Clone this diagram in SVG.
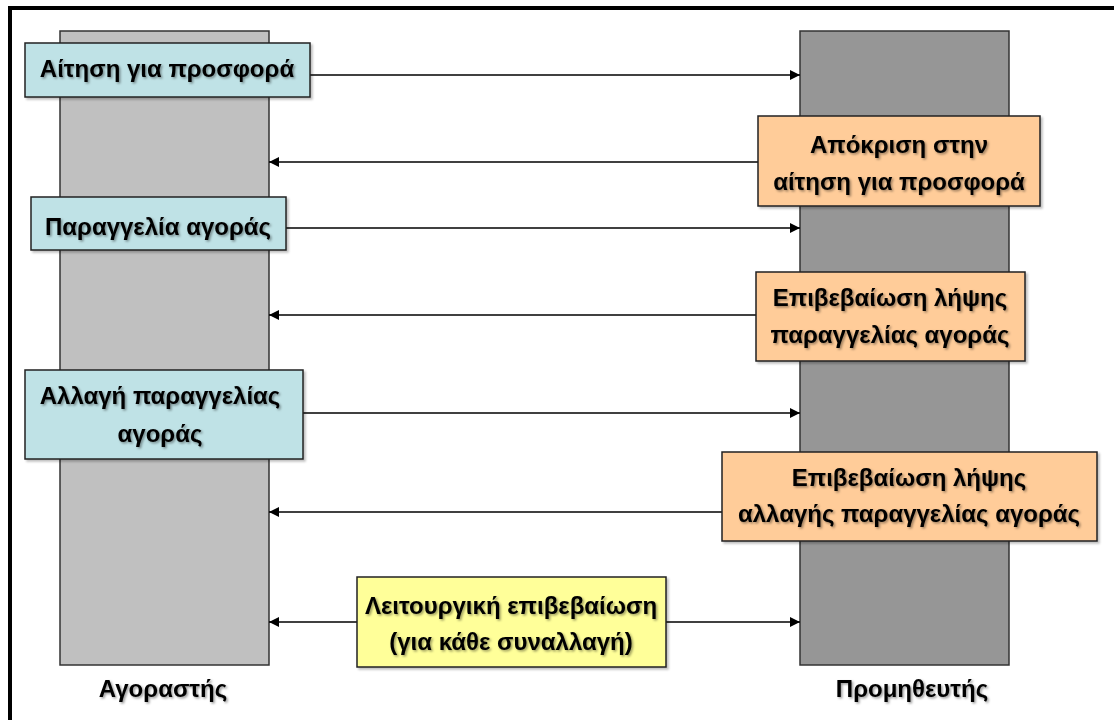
<svg xmlns="http://www.w3.org/2000/svg" width="1114" height="720" viewBox="0 0 1114 720">
<style>
.lane{stroke:#333;stroke-width:1.5}
.box{stroke:#222;stroke-width:1.5}
.blue{fill:#BFE2E6}
.orange{fill:#FFCC99}
.yellow{fill:#FFFF99}
.t{font-family:"Liberation Sans",Arial,sans-serif;font-weight:bold;font-size:24px;fill:#000;text-anchor:middle;filter:url(#sh)}
.c{stroke:#000;stroke-width:1.5;fill:none}
</style>
<defs>
<filter id="sh" x="-10%" y="-30%" width="120%" height="160%">
<feDropShadow dx="1.5" dy="1.5" stdDeviation="1" flood-color="#000" flood-opacity="0.4"/>
</filter>
<filter id="bs" x="-5%" y="-10%" width="110%" height="120%">
<feDropShadow dx="2" dy="2" stdDeviation="1" flood-color="#000" flood-opacity="0.25"/>
</filter>
<marker id="ah" viewBox="0 0 10 10" refX="10" refY="5" markerWidth="10" markerHeight="10" markerUnits="userSpaceOnUse" orient="auto-start-reverse">
<path d="M0,0 L10,5 L0,10 z" fill="#000"/>
</marker>
</defs>
<rect x="10" y="8" width="1120" height="730" fill="none" stroke="#000" stroke-width="4"/>
<g id="buyer">
<rect class="lane" x="60" y="31" width="209" height="634" fill="#C0C0C0"/>
<text class="t" x="163" y="697">Αγοραστής</text>
</g>
<g id="supplier">
<rect class="lane" x="800" y="31" width="209" height="634" fill="#969696"/>
<text class="t" x="912" y="697">Προμηθευτής</text>
</g>
<g id="connectors">
<line class="c" x1="310" y1="75" x2="800" y2="75" marker-end="url(#ah)"/>
<line class="c" x1="758" y1="162" x2="269" y2="162" marker-end="url(#ah)"/>
<line class="c" x1="286" y1="228" x2="800" y2="228" marker-end="url(#ah)"/>
<line class="c" x1="756" y1="315" x2="269" y2="315" marker-end="url(#ah)"/>
<line class="c" x1="303" y1="413" x2="800" y2="413" marker-end="url(#ah)"/>
<line class="c" x1="722" y1="512" x2="269" y2="512" marker-end="url(#ah)"/>
<line class="c" x1="357" y1="622" x2="269" y2="622" marker-end="url(#ah)"/>
<line class="c" x1="666" y1="622" x2="800" y2="622" marker-end="url(#ah)"/>
</g>
<g id="n1">
<rect class="box blue" x="25" y="43" width="285" height="54" filter="url(#bs)"/>
<text class="t" x="167" y="77">Αίτηση για προσφορά</text>
</g>
<g id="n2">
<rect class="box orange" x="758" y="116" width="282" height="90" filter="url(#bs)"/>
<text class="t" x="899" y="153">Απόκριση στην</text>
<text class="t" x="899" y="190">αίτηση για προσφορά</text>
</g>
<g id="n3">
<rect class="box blue" x="31" y="197" width="255" height="53" filter="url(#bs)"/>
<text class="t" x="158" y="235">Παραγγελία αγοράς</text>
</g>
<g id="n4">
<rect class="box orange" x="756" y="272" width="269" height="89" filter="url(#bs)"/>
<text class="t" x="890" y="306">Επιβεβαίωση λήψης</text>
<text class="t" x="890" y="343">παραγγελίας αγοράς</text>
</g>
<g id="n5">
<rect class="box blue" x="25" y="370" width="278" height="89" filter="url(#bs)"/>
<text class="t" x="160" y="404">Αλλαγή παραγγελίας</text>
<text class="t" x="160" y="442">αγοράς</text>
</g>
<g id="n6">
<rect class="box orange" x="722" y="452" width="375" height="89" filter="url(#bs)"/>
<text class="t" x="909" y="486">Επιβεβαίωση λήψης</text>
<text class="t" x="909" y="522">αλλαγής παραγγελίας αγοράς</text>
</g>
<g id="n7">
<rect class="box yellow" x="357" y="577" width="309" height="90" filter="url(#bs)"/>
<text class="t" x="511" y="614">Λειτουργική επιβεβαίωση</text>
<text class="t" x="511" y="650">(για κάθε συναλλαγή)</text>
</g>
</svg>
